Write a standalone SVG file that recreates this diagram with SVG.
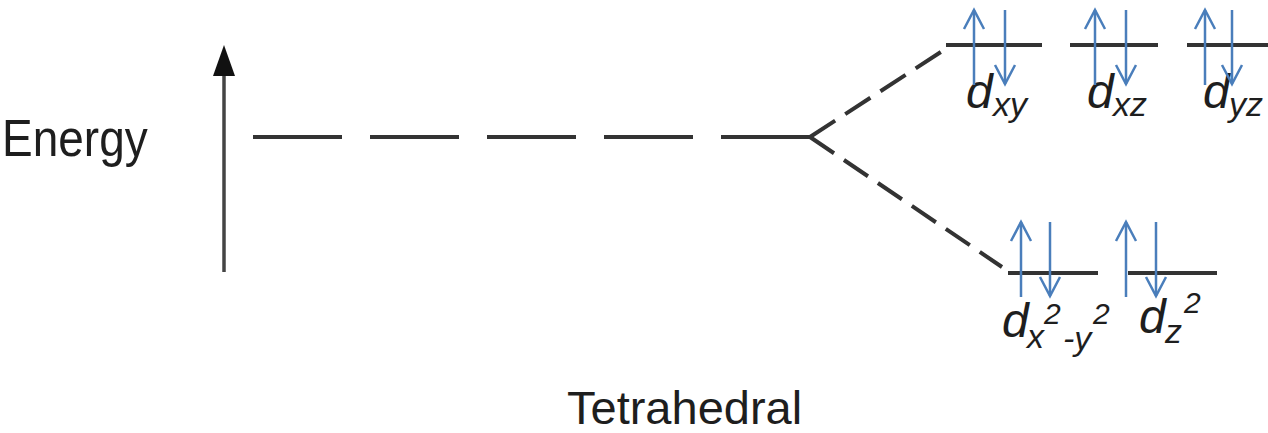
<svg xmlns="http://www.w3.org/2000/svg" width="1268" height="433" viewBox="0 0 1268 433">
  <defs>
    <marker id="vHead" viewBox="0 0 24 24" refX="21" refY="12" markerWidth="24" markerHeight="24" markerUnits="userSpaceOnUse" orient="auto">
      <path d="M2,2 L21,12 L2,22" fill="none" stroke="#4a7ebb" stroke-width="2.5"/>
    </marker>
  </defs>
  <style>
    .lbl { font-family: "Liberation Sans", Arial, sans-serif; fill: #1e1e1e; }
    .orb { font-family: "Liberation Sans", Arial, sans-serif; font-style: italic; fill: #1e1e1e; }
    .big { font-size: 48px; }
    .sub { font-size: 34px; }
    .sup { font-size: 30px; }
    .level { stroke: #333; stroke-width: 4; fill: none; }
    .dash { stroke: #333; stroke-width: 4; fill: none; }
    .e { stroke: #4a7ebb; stroke-width: 2.5; fill: none; marker-end: url(#vHead); }
  </style>
  <rect width="1268" height="433" fill="#ffffff"/>

  <g id="energy-axis">
    <line x1="224" y1="272" x2="224" y2="72" stroke="#444" stroke-width="3.5"/>
    <path d="M224,45 L235,76 L213,76 Z" fill="#111"/>
    <text class="lbl" transform="translate(2,156) scale(1,1.12)" x="0" y="0" font-size="46">Energy</text>
  </g>

  <g id="connectors">
    <line class="dash" x1="253" y1="137" x2="810" y2="137" stroke-dasharray="89 28"/>
    <line class="dash" x1="810" y1="137" x2="947" y2="48" stroke-dasharray="30 12"/>
    <line class="dash" x1="810" y1="137" x2="1002" y2="267" stroke-dasharray="29 12"/>
  </g>

  <g id="dxy">
    <line class="level" x1="946" y1="45" x2="1042" y2="45"/>
    <text class="orb"><tspan class="big" x="966" y="108">d</tspan><tspan class="sub" x="993" y="116">xy</tspan></text>
    <line class="e" x1="974" y1="85" x2="974" y2="10"/>
    <line class="e" x1="1005" y1="10" x2="1005" y2="84"/>
  </g>

  <g id="dxz">
    <line class="level" x1="1070" y1="45" x2="1158" y2="45"/>
    <text class="orb"><tspan class="big" x="1087" y="108">d</tspan><tspan class="sub" x="1113" y="116">xz</tspan></text>
    <line class="e" x1="1095" y1="85" x2="1095" y2="10"/>
    <line class="e" x1="1126" y1="10" x2="1126" y2="84"/>
  </g>

  <g id="dyz">
    <line class="level" x1="1187" y1="45" x2="1268" y2="45"/>
    <text class="orb"><tspan class="big" x="1203" y="108">d</tspan><tspan class="sub" x="1229" y="116">yz</tspan></text>
    <line class="e" x1="1205" y1="85" x2="1205" y2="10"/>
    <line class="e" x1="1232" y1="10" x2="1232" y2="84"/>
  </g>

  <g id="dx2-y2">
    <line class="level" x1="1008" y1="273" x2="1098" y2="273"/>
    <text class="orb"><tspan class="big" x="1002" y="337">d</tspan><tspan class="sub" x="1027" y="348">x</tspan><tspan class="sup" x="1044" y="324">2</tspan><tspan class="sub" x="1063" y="350">-y</tspan><tspan class="sup" x="1093" y="324">2</tspan></text>
    <line class="e" x1="1021" y1="297" x2="1021" y2="222"/>
    <line class="e" x1="1050" y1="222" x2="1050" y2="296"/>
  </g>

  <g id="dz2">
    <line class="level" x1="1128" y1="273" x2="1217" y2="273"/>
    <text class="orb"><tspan class="big" x="1139" y="333">d</tspan><tspan class="sub" x="1165" y="343">z</tspan><tspan class="sup" x="1184" y="313">2</tspan></text>
    <line class="e" x1="1126" y1="297" x2="1126" y2="222"/>
    <line class="e" x1="1156" y1="222" x2="1156" y2="296"/>
  </g>

  <g id="title">
    <text class="lbl" x="567" y="424" font-size="47">Tetrahedral</text>
  </g>
</svg>
